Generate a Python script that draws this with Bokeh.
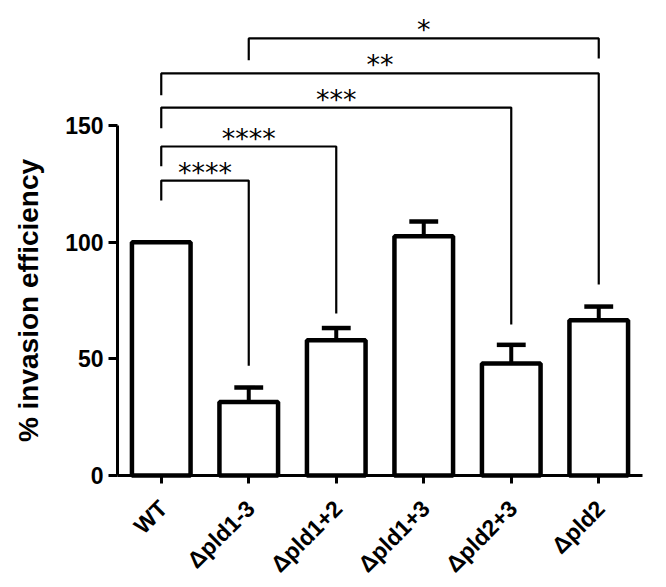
import math
from bokeh.plotting import figure
from bokeh.models import Range1d, FixedTicker, ColumnDataSource
from bokeh.core.properties import value
from bokeh.embed import file_html
from bokeh.resources import INLINE

# ---- data ----
categories = ["WT", "Δpld1-3", "Δpld1+2", "Δpld1+3", "Δpld2+3", "Δpld2"]
means = [100, 31.5, 58, 102.5, 48, 66.5]
sem = [0, 6.2, 5.2, 6.4, 8.0, 5.9]
y_ticks = [0, 50, 100, 150]

# significance brackets: left index, right index, bar height, left leg end, right leg end, label
br_left = [0, 0, 0, 0, 1]
br_right = [1, 2, 4, 5, 5]
br_y = [126.4, 141, 157.7, 172.3, 187.3]
br_left_end = [117.9, 132.5, 148.8, 163, 178]
br_right_end = [47, 69.4, 64.7, 81.9, 178.7]
br_label = ["****", "****", "***", "**", "*"]

FONT = "Liberation Sans"

# layout (pixels) -> the frame fills the whole canvas; axes are drawn at fixed locations
W, H = 658, 579
AX_LEFT, AX_RIGHT, AX_BOTTOM = 117, 642, 475
PX_PER_X = (AX_RIGHT - AX_LEFT) / len(categories)
PX_PER_Y = (AX_BOTTOM - 125) / 150
x0 = -0.5 - AX_LEFT / PX_PER_X
x1 = len(categories) - 0.5 + (W - AX_RIGHT) / PX_PER_X
y1 = AX_BOTTOM / PX_PER_Y
y0 = -(H - AX_BOTTOM) / PX_PER_Y

p = figure(width=W, height=H, output_backend="svg", toolbar_location=None,
           x_range=Range1d(x0, x1), y_range=Range1d(y0, y1), min_border=0)
p.outline_line_color = None
p.xgrid.visible = False
p.ygrid.visible = False
p.background_fill_color = "white"
p.border_fill_color = "white"

x = list(range(len(categories)))
src = ColumnDataSource(dict(x=x, top=means))

# error bars (upper only), drawn for bars with sem > 0
ex = [i for i, s in zip(x, sem) if s > 0]
etop = [m + s for m, s in zip(means, sem) if s > 0]
ebase = [m for m, s in zip(means, sem) if s > 0]
p.segment(x0=ex, y0=ebase, x1=ex, y1=etop, line_color="black", line_width=4)
p.rect(x=ex, y=etop, width=0.33, height=4.5, height_units="screen",
       fill_color="black", line_color=None)

p.vbar(x="x", top="top", bottom=0, width=0.67, source=src,
       fill_color="white", line_color="black", line_width=4.5)

# brackets
xs = [[l, l, r, r] for l, r in zip(br_left, br_right)]
ys = [[le, y, y, re] for le, y, re in zip(br_left_end, br_y, br_right_end)]
p.multi_line(xs=xs, ys=ys, line_color="black", line_width=2.2)
p.text(x=[(l + r) / 2 for l, r in zip(br_left, br_right)], y=br_y, text=br_label,
       text_align="center", text_baseline="bottom", y_offset=7,
       text_font=value("DejaVu Sans"), text_font_size="27px", text_color="black")

# y axis
p.yaxis.fixed_location = -0.5
p.yaxis.ticker = FixedTicker(ticks=y_ticks)
p.yaxis.bounds = (0, 150)
p.yaxis.axis_line_width = 3
p.yaxis.major_tick_line_width = 3
p.yaxis.major_tick_out = 9
p.yaxis.major_tick_in = 0
p.yaxis.minor_tick_line_color = None
p.yaxis.major_label_text_font = FONT
p.yaxis.major_label_text_font_style = "bold"
p.yaxis.major_label_text_font_size = "23px"
p.yaxis.major_label_text_color = "black"
p.yaxis.major_label_standoff = 5

p.text(x=[-0.5], y=[75], text=["% invasion efficiency"], angle=math.pi / 2,
       x_offset=-89, text_align="center", text_baseline="middle",
       text_font=value(FONT), text_font_style="bold", text_font_size="28px",
       text_color="black")

# x axis: ticks at the category centres (no numeric labels)
p.xaxis.fixed_location = 0
p.xaxis.bounds = (-0.5, len(categories) - 0.5)
p.xaxis.ticker = FixedTicker(ticks=[], minor_ticks=x)
p.xaxis.axis_line_width = 3
p.xaxis.minor_tick_line_width = 3
p.xaxis.minor_tick_line_color = "black"
p.xaxis.minor_tick_out = 8
p.xaxis.minor_tick_in = 0
p.xaxis.major_tick_line_color = None

p.text(x=x, y=[0] * len(x), text=categories, angle=math.pi / 4,
       x_offset=2, y_offset=29, text_align="right", text_baseline="middle",
       text_font=value(FONT), text_font_style="bold", text_font_size="23px",
       text_color="black")

open("out.html", "w").write(file_html(p, INLINE))
